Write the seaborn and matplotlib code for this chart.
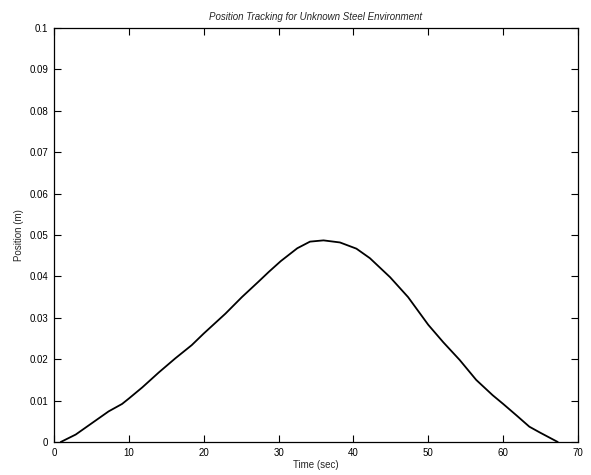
import matplotlib
matplotlib.use("Agg")
import matplotlib.pyplot as plt
import seaborn as sns
import pandas as pd

time_sec = [0.9, 2.9, 5.1, 7.3, 9.1, 10.0, 11.8, 14.0, 16.2, 18.4, 20.0, 22.9, 25.1,
            27.3, 28.7, 30.3, 32.5, 34.2, 36.0, 38.2, 40.4, 42.2, 44.9, 47.3, 50.0,
            52.0, 54.2, 56.4, 58.6, 60.0, 61.8, 63.5, 64.9, 67.3]
position_m = [0.0, 0.0018, 0.0046, 0.0074, 0.0092, 0.0105, 0.0132, 0.0168, 0.0202,
              0.0234, 0.0262, 0.0310, 0.0350, 0.0387, 0.0411, 0.0437, 0.0468, 0.0484,
              0.0487, 0.0482, 0.0467, 0.0444, 0.0398, 0.0350, 0.0283, 0.0241, 0.0198,
              0.0150, 0.0113, 0.0092, 0.0064, 0.0037, 0.0023, 0.0]

x_ticks = [0, 10, 20, 30, 40, 50, 60, 70]
y_ticks = [0, 0.01, 0.02, 0.03, 0.04, 0.05, 0.06, 0.07, 0.08, 0.09, 0.1]
y_tick_labels = ["0", "0.01", "0.02", "0.03", "0.04", "0.05", "0.06", "0.07", "0.08", "0.09", "0.1"]

sns.set_style("ticks")
plt.rcParams['font.family'] = ['Liberation Sans', 'DejaVu Sans']

df = pd.DataFrame({"time": time_sec, "pos": position_m})

fig = plt.figure(figsize=(5.91, 4.75), dpi=100)
ax = fig.add_axes([54 / 591, 33 / 475, (578 - 54) / 591, 414 / 475])
sns.lineplot(data=df, x="time", y="pos", ax=ax, color="black", linewidth=1.3)

ax.set_xlim(0, 70)
ax.set_ylim(0, 0.1)
ax.set_xticks(x_ticks)
ax.set_xticklabels([str(t) for t in x_ticks])
ax.set_yticks(y_ticks)
ax.set_yticklabels(y_tick_labels)
ax.tick_params(direction="in", top=True, right=True, length=5, width=0.8,
               labelsize=7, colors="black", pad=4)
for s in ax.spines.values():
    s.set_visible(True)
    s.set_color("black")
    s.set_linewidth(0.9)

ax.set_xlabel("Time (sec)", fontsize=7, labelpad=2)
ax.set_ylabel("Position (m)", fontsize=7, labelpad=4)
ax.set_title("Position Tracking for Unknown Steel Environment", fontsize=7,
             style="italic", pad=6)

fig.savefig("out.png", dpi=100)
